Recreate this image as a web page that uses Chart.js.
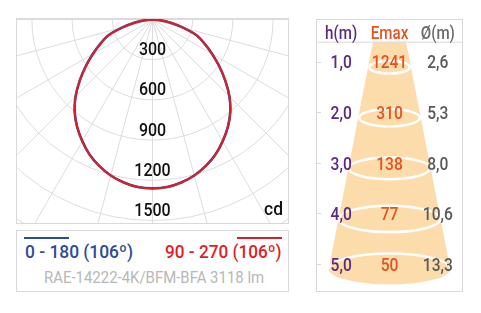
<!DOCTYPE html>
<html>
<head>
<meta charset="utf-8">
<script src="https://cdn.jsdelivr.net/npm/chart.js@4.4.1/dist/chart.umd.min.js"></script>
<style>
html, body { margin: 0; padding: 0; background: #fff; }
body { width: 481px; height: 313px; position: relative; overflow: hidden; font-family: Roboto, sans-serif; }
.box { position: absolute; border: 1px solid #d9d9d9; box-sizing: border-box; }
#polarBox { left: 16px; top: 18px; width: 273px; height: 206px; }
#legendBox { left: 16px; top: 230px; width: 273px; height: 62px; }
#tableBox { left: 316px; top: 19px; width: 147px; height: 273px; }
canvas { display: block; }
.lg { position: absolute; white-space: pre; line-height: 1; transform-origin: 0 0; font-weight: 500; }
.ovl { position: absolute; height: 2px; }
</style>
</head>
<body>
<div class="box" id="polarBox"><canvas id="polar" width="271" height="204"></canvas></div>
<div class="box" id="legendBox"></div>
<div class="box" id="tableBox"><canvas id="cone" width="145" height="271"></canvas></div>

<script>
// photometric curve (cd per gamma angle)
const gammaAngles = [0, 5, 10, 15, 20, 25, 30, 35, 40, 45, 50, 55, 60, 65, 70, 75, 80, 85, 90];
const intensityC0 = [1260, 1255, 1235, 1205, 1163, 1112, 1048, 980, 903, 812, 709, 608, 514, 430, 354, 236, 132, 55, 0];
const intensityC90 = [1260, 1255, 1235, 1205, 1163, 1112, 1048, 980, 903, 812, 709, 608, 514, 430, 354, 236, 132, 55, 0];
const ringLabels = [300, 600, 900, 1200, 1500];
const gridRings = [300, 600, 900, 1200, 1500, 1800, 2100];
const spokeStep = 15;

// table on the right
const columns = ['h(m)', 'Emax', 'Ø(m)'];
const heights = [1, 2, 3, 4, 5];
const emaxLux = [1241, 310, 138, 77, 50];
const diameters = [2.6, 5.3, 8.0, 10.6, 13.3];

const legendLeft = '0 - 180 (106º)';
const legendRight = '90 - 270 (106º)';
const luminaire = 'RAE-14222-4K/BFM-BFA 3118 lm';

const BLUE = '#2b4c9b';
const RED = '#dc1f27';

// cd per pixel of the polar diagram
const cdPerPx = 300 / 40.2;

// turn a C-plane into x/y points, both halves of the plane
function planeCurve(values) {
    const pts = [];
    for (let i = gammaAngles.length - 1; i >= 0; i--) {
        const t = gammaAngles[i] * Math.PI / 180;
        pts.push({ x: -values[i] * Math.sin(t), y: -values[i] * Math.cos(t) });
    }
    for (let i = 1; i < gammaAngles.length; i++) {
        const t = gammaAngles[i] * Math.PI / 180;
        pts.push({ x: values[i] * Math.sin(t), y: -values[i] * Math.cos(t) });
    }
    return pts;
}

function squeezedText(ctx, text, x, cy, size, sx, align, color) {
    ctx.save();
    ctx.font = '500 ' + size + 'px Roboto';
    ctx.fillStyle = color;
    ctx.textAlign = align;
    ctx.textBaseline = 'alphabetic';
    ctx.translate(x, cy + size * 0.355);
    ctx.scale(sx, 1);
    ctx.fillText(text, 0, 0);
    ctx.restore();
}

const polarGrid = {
    id: 'polarGrid',
    beforeDatasetsDraw(chart) {
        const { ctx, chartArea: a, scales: { x, y } } = chart;
        const ox = x.getPixelForValue(0), oy = y.getPixelForValue(0);
        const k = x.getPixelForValue(1) - ox;
        ctx.save();
        ctx.beginPath();
        ctx.rect(a.left, a.top, a.right - a.left, a.bottom - a.top);
        ctx.clip();
        ctx.strokeStyle = '#dcdcdc';
        ctx.lineWidth = 1;
        gridRings.forEach(v => {
            ctx.beginPath();
            ctx.arc(ox, oy, v * k, 0, Math.PI);
            ctx.stroke();
        });
        for (let g = -90; g <= 90; g += spokeStep) {
            const t = g * Math.PI / 180;
            const R = 3000 * k;
            ctx.beginPath();
            ctx.moveTo(ox, oy);
            ctx.lineTo(ox + R * Math.sin(t), oy + R * Math.cos(t));
            ctx.stroke();
        }
        ctx.restore();
    },
    afterDatasetsDraw(chart) {
        const { ctx, chartArea: a, scales: { x, y } } = chart;
        const ox = x.getPixelForValue(0);
        ringLabels.forEach(v => {
            squeezedText(ctx, String(v), ox, y.getPixelForValue(-v) - 11.3, 19, 0.84, 'center', '#111');
        });
        squeezedText(ctx, 'cd', a.right - 5, a.bottom - 15, 19, 0.92, 'right', '#111');
    }
};

new Chart(document.getElementById('polar'), {
    type: 'scatter',
    data: {
        datasets: [
            { label: legendRight, data: planeCurve(intensityC90), borderColor: RED, borderWidth: 2 },
            { label: legendLeft, data: planeCurve(intensityC0), borderColor: BLUE, borderWidth: 2.6 }
        ]
    },
    options: {
        responsive: false,
        animation: false,
        devicePixelRatio: 1,
        events: [],
        layout: { padding: 0 },
        datasets: { scatter: { showLine: true, pointRadius: 0, tension: 0.25, fill: false } },
        scales: {
            x: { type: 'linear', display: false, min: -135.5 * cdPerPx, max: 135.5 * cdPerPx },
            y: { type: 'linear', display: false, min: -203.5 * cdPerPx, max: 0.5 * cdPerPx }
        },
        plugins: { legend: { display: false }, tooltip: { enabled: false } }
    },
    plugins: [polarGrid]
});

// cone + table texts
const coneTable = {
    id: 'coneTable',
    afterDraw(chart) {
        const { ctx, chartArea: a, scales: { x, y } } = chart;
        const cx = x.getPixelForValue(1);
        const headY = 21.7;
        const hw = py => 16.5 + (py - headY) * 0.2015;
        const last = heights.length - 1;
        const bottomY = y.getPixelForValue(heights[last]) + 5;
        const ell = yc => { const rx = hw(yc) - 1.5; return [rx, rx * 0.22 + 2]; };

        ctx.save();
        // cone body
        const [brx, bry] = ell(bottomY);
        ctx.fillStyle = '#fddcab';
        ctx.beginPath();
        ctx.moveTo(cx - hw(headY), headY);
        ctx.lineTo(cx + hw(headY), headY);
        ctx.lineTo(cx + brx, bottomY);
        ctx.ellipse(cx, bottomY, brx, bry, 0, 0, Math.PI);
        ctx.closePath();
        ctx.fill();

        // rings
        ctx.strokeStyle = '#fff';
        ctx.lineWidth = 2.5;
        heights.forEach((h, i) => {
            const yc = y.getPixelForValue(h) + 5.5;
            const [rx, ry] = ell(yc);
            ctx.beginPath();
            if (i === last) ctx.ellipse(cx, bottomY, brx, bry, 0, Math.PI, Math.PI * 2);
            else ctx.ellipse(cx, yc, rx, ry, 0, 0, Math.PI * 2);
            ctx.stroke();
        });

        // header line and row ticks
        ctx.strokeStyle = '#d9d9d9';
        ctx.lineWidth = 1;
        ctx.beginPath();
        ctx.moveTo(a.left, headY + 0.5);
        ctx.lineTo(a.right, headY + 0.5);
        ctx.stroke();
        heights.forEach(h => {
            const py = Math.round(y.getPixelForValue(h)) + 0.5;
            ctx.beginPath();
            ctx.moveTo(a.left, py);
            ctx.lineTo(a.left + 4, py);
            ctx.stroke();
        });
        ctx.restore();

        const colColors = ['#5b2a80', '#e8521e', '#5a5a5a'];
        columns.forEach((c, i) => {
            squeezedText(ctx, c, x.getPixelForValue(i), 12.3, 18, 0.84, 'center', i === 2 ? '#6a6a6a' : colColors[i]);
        });
        heights.forEach((h, i) => {
            const py = y.getPixelForValue(h);
            squeezedText(ctx, h.toFixed(1).replace('.', ','), x.getPixelForValue(0), py, 19, 0.82, 'center', colColors[0]);
            squeezedText(ctx, String(emaxLux[i]), x.getPixelForValue(1), py, 19, 0.82, 'center', colColors[1]);
            squeezedText(ctx, diameters[i].toFixed(1).replace('.', ','), x.getPixelForValue(2), py, 19, 0.82, 'center', colColors[2]);
        });
    }
};

new Chart(document.getElementById('cone'), {
    type: 'line',
    data: { labels: columns, datasets: [] },
    options: {
        responsive: false,
        animation: false,
        devicePixelRatio: 1,
        events: [],
        layout: { padding: 0 },
        scales: {
            x: { type: 'category', display: false, offset: true },
            y: { type: 'linear', display: false, reverse: true, min: 0.176, max: 5.534 }
        },
        plugins: { legend: { display: false }, tooltip: { enabled: false } }
    },
    plugins: [coneTable]
});

// legend texts, squeezed to the widths of the original
function addLegendText(text, left, width, cy, size, color, weight) {
    const s = document.createElement('span');
    s.className = 'lg';
    s.textContent = text;
    s.style.fontSize = size + 'px';
    s.style.fontWeight = weight;
    s.style.color = color;
    s.style.left = left + 'px';
    s.style.top = (cy - size * 0.487) + 'px';
    document.body.appendChild(s);
    s.style.transform = 'scaleX(' + (width / s.offsetWidth) + ')';
}
addLegendText(legendLeft, 24.5, 108, 252.3, 18.5, BLUE, 500);
addLegendText(legendRight, 165, 117, 252.3, 18.5, RED, 500);
addLegendText(luminaire, 43.5, 220, 278.3, 16.5, '#b7b7b7', 400);

function addOverline(left, width, color) {
    const d = document.createElement('div');
    d.className = 'ovl';
    d.style.left = left + 'px';
    d.style.top = '236.5px';
    d.style.width = width + 'px';
    d.style.background = color;
    document.body.appendChild(d);
}
addOverline(23.5, 45.5, BLUE);
addOverline(237, 45, RED);
</script>
</body>
</html>
